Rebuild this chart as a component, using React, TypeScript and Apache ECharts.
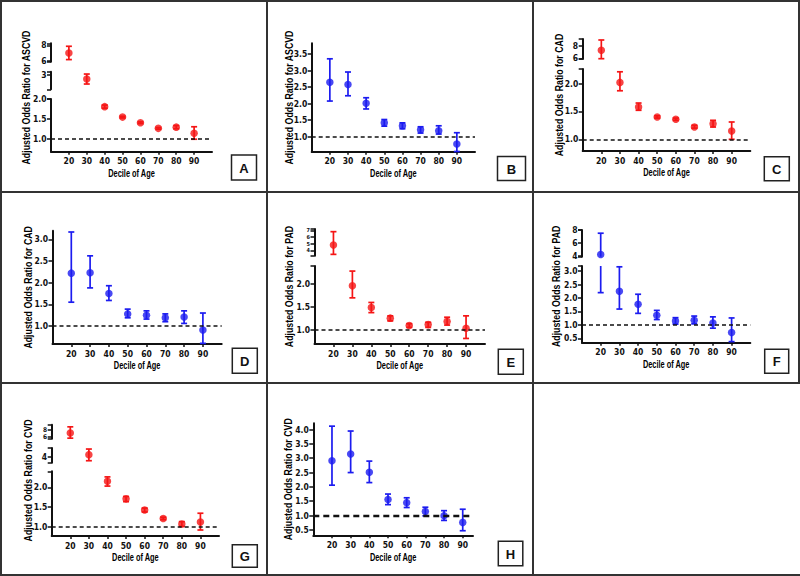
import { useEffect, useRef } from "react";
import * as echarts from "echarts";

// ---------- data ----------
const deciles = [20, 30, 40, 50, 60, 70, 80, 90];

const orA = [7.02, 2.7, 1.81, 1.55, 1.41, 1.27, 1.3, 1.15];
const loA = [6.17, 2.36, 1.77, 1.53, 1.39, 1.25, 1.26, 1.0];
const hiA = [7.87, 3.04, 1.85, 1.57, 1.43, 1.29, 1.34, 1.31];

const orB = [2.65, 2.58, 2.01, 1.42, 1.33, 1.21, 1.18, 0.78];
const loB = [2.08, 2.24, 1.84, 1.32, 1.24, 1.11, 1.08, 0.55];
const hiB = [3.36, 2.96, 2.18, 1.52, 1.42, 1.3, 1.33, 1.12];

const orC = [7.3, 2.02, 1.58, 1.4, 1.36, 1.22, 1.28, 1.15];
const loC = [5.94, 1.87, 1.52, 1.38, 1.34, 1.2, 1.22, 1.0];
const hiC = [8.97, 2.21, 1.65, 1.42, 1.38, 1.25, 1.34, 1.31];

const orD = [2.22, 2.23, 1.75, 1.28, 1.25, 1.19, 1.21, 0.91];
const loD = [1.55, 1.88, 1.59, 1.19, 1.16, 1.1, 1.06, 0.6];
const hiD = [3.17, 2.62, 1.93, 1.39, 1.35, 1.28, 1.35, 1.3];

const orE = [4.8, 1.96, 1.49, 1.26, 1.1, 1.12, 1.19, 1.04];
const loE = [3.4, 1.7, 1.38, 1.2, 1.06, 1.06, 1.11, 0.82];
const hiE = [6.8, 2.28, 1.6, 1.31, 1.14, 1.17, 1.28, 1.31];

const orF = [4.2, 2.25, 1.77, 1.36, 1.15, 1.17, 1.07, 0.72];
const loF = [2.2, 1.59, 1.43, 1.2, 1.03, 1.04, 0.88, 0.38];
const hiF = [7.5, 3.16, 2.14, 1.54, 1.27, 1.33, 1.3, 1.26];

const orG = [7.1, 4.23, 2.15, 1.71, 1.43, 1.22, 1.08, 1.13];
const loG = [5.74, 3.53, 2.03, 1.64, 1.38, 1.19, 1.02, 0.93];
const hiG = [8.74, 4.88, 2.26, 1.77, 1.48, 1.25, 1.14, 1.35];

const orH = [2.91, 3.15, 2.51, 1.56, 1.45, 1.14, 0.99, 0.76];
const loH = [2.06, 2.5, 2.15, 1.38, 1.28, 0.99, 0.83, 0.47];
const hiH = [4.12, 3.95, 2.9, 1.75, 1.62, 1.29, 1.17, 1.22];

// y-axis ranges and tick labels per axis segment (broken axes)
const rangesA = [[5.9, 8.25], [2.0, 3.2], [0.69, 2.0]];
const ticksA = [[6, 8], [3], [1.0, 1.5, 2.0]];
const rangesB = [[0.545, 3.83]];
const ticksB = [[1.0, 1.5, 2.0, 2.5, 3.0, 3.5]];
const rangesC = [[5.89, 9.13], [0.79, 2.26]];
const ticksC = [[6, 8], [1.0, 1.5, 2.0]];
const rangesD = [[0.585, 3.2]];
const ticksD = [[1.0, 1.5, 2.0, 2.5, 3.0]];
const rangesE = [[3.2, 7.2], [0.7, 2.39]];
const ticksE = [[4, 5, 6, 7], [1.0, 1.5, 2.0]];
const rangesF = [[3.85, 8], [0.34, 3.19]];
const ticksF = [[4, 6, 8], [0.5, 1.0, 1.5, 2.0, 2.5, 3.0]];
const rangesG = [[5.6, 9.3], [3.3, 5.0], [0.78, 2.4]];
const ticksG = [[6, 8], [4], [1.0, 1.5, 2.0]];
const rangesH = [[0.31, 4.22]];
const ticksH = [[0.5, 1.0, 1.5, 2.0, 2.5, 3.0, 3.5, 4.0]];

const xTitle = "Decile of Age";
const referenceOR = 1;

// ---------- layout / style ----------
const RED = "#f51515";
const BLUE = "#1c1cf0";
const NARROW = '"Liberation Sans Narrow", "DejaVu Sans Condensed", "Liberation Sans", Arial, sans-serif';
const SANS = '"Liberation Sans", Arial, sans-serif';

type Seg = { t: number; b: number; fs?: number };
type Panel = {
  letter: string; ox: number; oy: number; left: number; right: number; xMax: number;
  segs: Seg[]; ranges: number[][]; ticks: number[][]; yTitle: string; titleX: number;
  box: [number, number, number, number]; color: string; or: number[]; lo: number[]; hi: number[];
  dashW: number;
};

const panels: Panel[] = [
  { letter: "A", ox: 0, oy: 0, left: 51, right: 212, xMax: 100,
    segs: [{ t: 43.3, b: 61.7 }, { t: 71.7, b: 89.3 }, { t: 99, b: 151.7 }],
    ranges: rangesA, ticks: ticksA, yTitle: "Adjusted Odds Ratio for ASCVD", titleX: 26.5,
    box: [231.5, 155, 25, 25], color: RED, or: orA, lo: loA, hi: hiA, dashW: 1.5 },
  { letter: "B", ox: 266, oy: 0, left: 45.7, right: 209, xMax: 100,
    segs: [{ t: 43.3, b: 151.7 }],
    ranges: rangesB, ticks: ticksB, yTitle: "Adjusted Odds Ratio for ASCVD", titleX: 23.5,
    box: [231.5, 156.5, 28, 24], color: BLUE, or: orB, lo: loB, hi: hiB, dashW: 1.5 },
  { letter: "C", ox: 532, oy: 0, left: 50.7, right: 218.3, xMax: 100,
    segs: [{ t: 39, b: 59 }, { t: 69, b: 151 }],
    ranges: rangesC, ticks: ticksC, yTitle: "Adjusted Odds Ratio for CAD", titleX: 27,
    box: [232.3, 156.7, 25, 24], color: RED, or: orC, lo: loC, hi: hiC, dashW: 1.5 },
  { letter: "D", ox: 0, oy: 190, left: 52.5, right: 221.7, xMax: 100,
    segs: [{ t: 40.7, b: 154 }],
    ranges: rangesD, ticks: ticksD, yTitle: "Adjusted Odds Ratio for CAD", titleX: 28,
    box: [232.3, 158.3, 25, 25], color: BLUE, or: orD, lo: loD, hi: hiD, dashW: 1.5 },
  { letter: "E", ox: 266, oy: 190, left: 48.5, right: 219, xMax: 100,
    segs: [{ t: 39, b: 65.7, fs: 5.5 }, { t: 76, b: 154 }],
    ranges: rangesE, ticks: ticksE, yTitle: "Adjusted Odds Ratio for PAD", titleX: 23,
    box: [232.3, 159.3, 25, 25], color: RED, or: orE, lo: loE, hi: hiE, dashW: 1.5 },
  { letter: "F", ox: 532, oy: 190, left: 50, right: 218.3, xMax: 100,
    segs: [{ t: 40, b: 66.7 }, { t: 76, b: 152.7 }],
    ranges: rangesF, ticks: ticksF, yTitle: "Adjusted Odds Ratio for PAD", titleX: 24.5,
    box: [232.7, 159.3, 24, 24], color: BLUE, or: orF, lo: loF, hi: hiF, dashW: 1.5 },
  { letter: "G", ox: 0, oy: 382, left: 51.7, right: 219, xMax: 100,
    segs: [{ t: 42.7, b: 56.7, fs: 6.5 }, { t: 66, b: 80.7 }, { t: 89.3, b: 154 }],
    ranges: rangesG, ticks: ticksG, yTitle: "Adjusted Odds Ratio for CVD", titleX: 28,
    box: [232.3, 162.7, 25, 22.5], color: RED, or: orG, lo: loG, hi: hiG, dashW: 1.5 },
  { letter: "H", ox: 266, oy: 382, left: 47.3, right: 207, xMax: 95.5,
    segs: [{ t: 41.3, b: 153.3 }],
    ranges: rangesH, ticks: ticksH, yTitle: "Adjusted Odds Ratio for CVD", titleX: 22.5,
    box: [232.3, 159.3, 24.5, 24.5], color: BLUE, or: orH, lo: loH, hi: hiH, dashW: 2.4 },
];

function txt(text: string, size: number, family: string, fill = "#000") {
  return {
    text, fontSize: size, fontWeight: "bold", fontFamily: family, fill,
    align: "center", verticalAlign: "middle", textAlign: "center", textVerticalAlign: "middle",
  };
}

function buildOption() {
  const grid: any[] = [];
  const xAxis: any[] = [];
  const yAxis: any[] = [];
  const series: any[] = [];
  const graphic: any[] = [];
  const AX = "#111";

  panels.forEach((p) => {
    const n = p.segs.length;
    p.segs.forEach((s, i) => {
      const gi = grid.length;
      const last = i === n - 1;
      const [mn, mx] = p.ranges[i];
      const tk = p.ticks[i];
      const dec = tk.some((v) => !Number.isInteger(v));
      const tickVals = n > 1 ? (last ? [...tk, mx] : [mn, ...tk, mx]) : tk;
      grid.push({ left: p.ox + p.left, top: p.oy + s.t, width: p.right - p.left, height: s.b - s.t, containLabel: false });
      xAxis.push({
        type: "value", gridIndex: gi, min: 10, max: p.xMax, show: last,
        axisLine: { show: true, onZero: false, lineStyle: { color: AX, width: 2 } },
        axisTick: { show: true, customValues: deciles, length: 3, lineStyle: { color: AX, width: 1.5 } },
        axisLabel: { show: true, customValues: deciles, color: AX, fontWeight: "bold", fontSize: 8.5, fontFamily: NARROW, margin: 5 },
        splitLine: { show: false },
      });
      yAxis.push({
        type: "value", gridIndex: gi, min: mn, max: mx,
        axisLine: { show: true, onZero: false, lineStyle: { color: AX, width: 2 } },
        axisTick: { show: true, customValues: tickVals, length: 4, lineStyle: { color: AX, width: 1.5 } },
        axisLabel: {
          show: true, customValues: tk, color: AX, fontWeight: "bold", fontSize: s.fs ?? 8.5, fontFamily: NARROW, margin: 4.5,
          hideOverlap: false,
          formatter: (v: number) => (dec ? Number(v).toFixed(1) : String(v)),
        },
        splitLine: { show: false },
      });
      const color = p.color;
      series.push({
        type: "custom", xAxisIndex: gi, yAxisIndex: gi, z: 2, silent: true,
        data: deciles.map((x, k) => [x, p.lo[k], p.hi[k]]).filter((d) => d[2] >= mn && d[1] <= mx),
        encode: { x: 0, y: [1, 2] },
        renderItem: (_params: any, api: any) => {
          const x = api.value(0), lo = api.value(1), hi = api.value(2);
          const a = Math.max(lo, mn), b = Math.min(hi, mx);
          const top = api.coord([x, b]);
          const bot = api.coord([x, a]);
          const st = { stroke: color, lineWidth: 1.7 };
          const children: any[] = [
            { type: "line", shape: { x1: top[0], y1: top[1], x2: bot[0], y2: bot[1] }, style: st },
          ];
          if (hi <= mx) children.push({ type: "line", shape: { x1: top[0] - 3, y1: top[1], x2: top[0] + 3, y2: top[1] }, style: st });
          if (lo >= mn) children.push({ type: "line", shape: { x1: bot[0] - 3, y1: bot[1], x2: bot[0] + 3, y2: bot[1] }, style: st });
          return { type: "group", children };
        },
      });
      const sc: any = {
        type: "scatter", xAxisIndex: gi, yAxisIndex: gi, z: 3, silent: true,
        symbol: "circle", symbolSize: 7.5, itemStyle: { color },
        data: deciles.map((x, k) => [x, p.or[k]]).filter((d) => d[1] >= mn && d[1] <= mx),
      };
      if (last) {
        sc.markLine = {
          silent: true, symbol: ["none", "none"], label: { show: false },
          lineStyle: { color: "#111", type: p.dashW > 2 ? [6, 4] : [4, 3], width: p.dashW },
          data: [{ yAxis: referenceOR }],
        };
      }
      series.push(sc);
    });

    // titles and panel letter box
    const topY = p.oy + p.segs[0].t;
    const botY = p.oy + p.segs[n - 1].b;
    graphic.push({
      type: "text", x: p.ox + p.titleX, y: (topY + botY) / 2, rotation: Math.PI / 2, scaleX: 0.88,
      style: txt(p.yTitle, 10, SANS),
    });
    graphic.push({
      type: "text", x: p.ox + (p.left + p.right) / 2, y: botY + 22, scaleX: 0.74,
      style: txt(xTitle, 10, SANS),
    });
    const [bx, by, bw, bh] = p.box;
    graphic.push({
      type: "rect", shape: { x: p.ox + bx, y: p.oy + by, width: bw, height: bh },
      style: { fill: "#fff", stroke: "#222", lineWidth: 1.5 },
    });
    graphic.push({
      type: "text", x: p.ox + bx + bw / 2, y: p.oy + by + bh / 2 + 0.5,
      style: txt(p.letter, 13, SANS, "#111"),
    });
  });

  // panel frame lines
  const B = { stroke: "#333", lineWidth: 2 };
  const lines = [
    [0, 1, 800, 1], [0, 192, 800, 192], [0, 383, 800, 383], [0, 575, 800, 575],
    [1, 0, 1, 576], [267, 0, 267, 576], [533, 0, 533, 576], [799, 0, 799, 383],
  ];
  lines.forEach(([x1, y1, x2, y2]) => graphic.push({ type: "line", shape: { x1, y1, x2, y2 }, style: B, silent: true }));

  return { animation: false, backgroundColor: "#fff", grid, xAxis, yAxis, series, graphic };
}

export default function App() {
  const ref = useRef<HTMLDivElement>(null);
  useEffect(() => {
    const chart = echarts.init(ref.current!, null, { renderer: "svg" });
    chart.setOption(buildOption() as any);
    return () => chart.dispose();
  }, []);
  return <div ref={ref} style={{ position: "fixed", left: 0, top: 0, width: 800, height: 576, background: "#fff" }} />;
}
